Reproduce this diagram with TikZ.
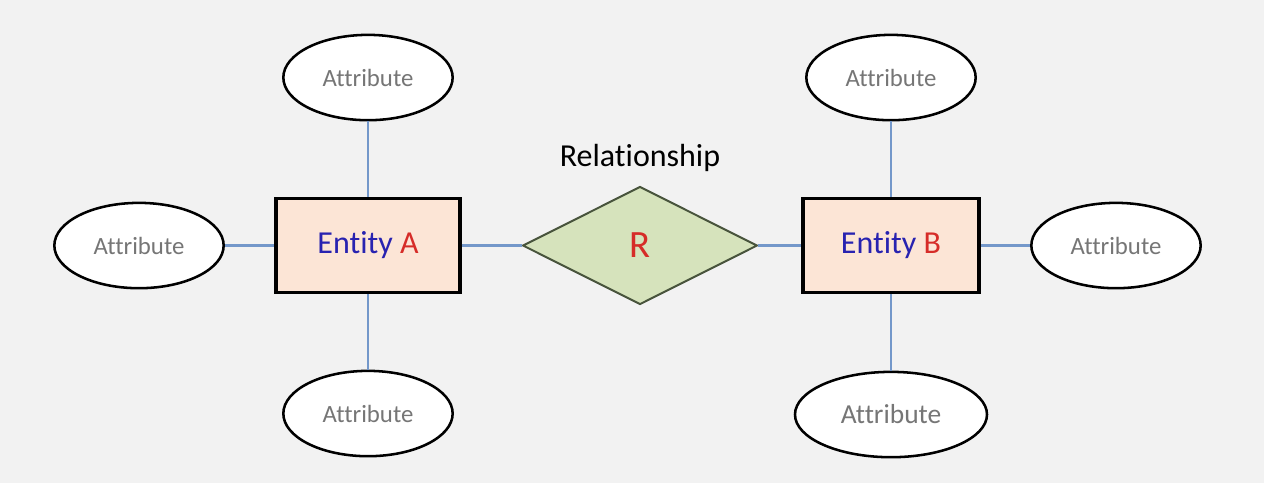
\documentclass[tikz,border=0pt]{standalone}
\usepackage{fontspec}
\setmainfont{Carlito}[Ligatures=NoCommon]
\usetikzlibrary{shapes}
\definecolor{bggray}{RGB}{242,242,242}
\definecolor{entfill}{RGB}{252,229,214}
\definecolor{relfill}{RGB}{214,227,188}
\definecolor{reldraw}{RGB}{72,84,60}
\definecolor{linkblue}{RGB}{116,152,202}
\definecolor{entblue}{RGB}{40,34,176}
\definecolor{entred}{RGB}{214,44,40}
\definecolor{attrgray}{RGB}{118,118,118}
\tikzstyle{attr} = [ellipse,draw,line width=1.9pt,fill=white,text=attrgray,inner sep=0pt,minimum width=127pt,minimum height=64pt,font=\fontsize{18.6}{22}\selectfont]

\begin{document}
\begin{tikzpicture}
		[
		entity/.style={
		draw,
		rectangle,
		line width=2.3pt,
		fill=entfill,
		text=entblue,
		minimum width=132pt,
		minimum height=70pt,
		font=\fontsize{24}{28}\selectfont},
		link/.style={draw=linkblue,line width=2.1pt}
		]
		\useasboundingbox[fill=bggray] (0,0) rectangle (948pt,362.25pt);
		\node[entity,minimum width=138pt](entityA) at (276pt,178.1pt) {Entity \textcolor{entred}{A}};
		\node[diamond,draw=reldraw,line width=1.5pt,fill=relfill,inner sep=0pt,minimum width=176pt,minimum height=88.5pt,text=entred,font=\fontsize{29}{32}\selectfont,right of=entityA,node distance=204pt](rel) {R};
		\node[font=\fontsize{24}{28}\selectfont,above of=rel,node distance=66pt](rellabel) {Relationship};
		\node[entity,right of=rel,node distance=188.25pt](entityB) {Entity \textcolor{entred}{B}};

		% attributes of A
		\node[attr,above of=entityA,node distance=126pt](attrAtop) {Attribute};
		\node[attr,left of=entityA,node distance=171.75pt](attrAleft) {Attribute};
		\node[attr,below of=entityA,node distance=126pt](attrAbottom) {Attribute};

		% attributes of B
		\node[attr,above of=entityB,node distance=126pt](attrBtop) {Attribute};
		\node[attr,right of=entityB,node distance=168.75pt](attrBright) {Attribute};
		\node[attr,minimum width=144pt,font=\fontsize{20.6}{24}\selectfont,below of=entityB,node distance=126.75pt](attrBbottom) {Attribute};

		\draw[link] (attrAtop) -- (entityA);
		\draw[link] (attrAleft) -- (entityA);
		\draw[link] (attrAbottom) -- (entityA);
		\draw[link] (entityA) -- (rel);
		\draw[link] (rel) -- (entityB);
		\draw[link] (attrBtop) -- (entityB);
		\draw[link] (attrBright) -- (entityB);
		\draw[link] (attrBbottom) -- (entityB);
		\end{tikzpicture}
\end{document}
